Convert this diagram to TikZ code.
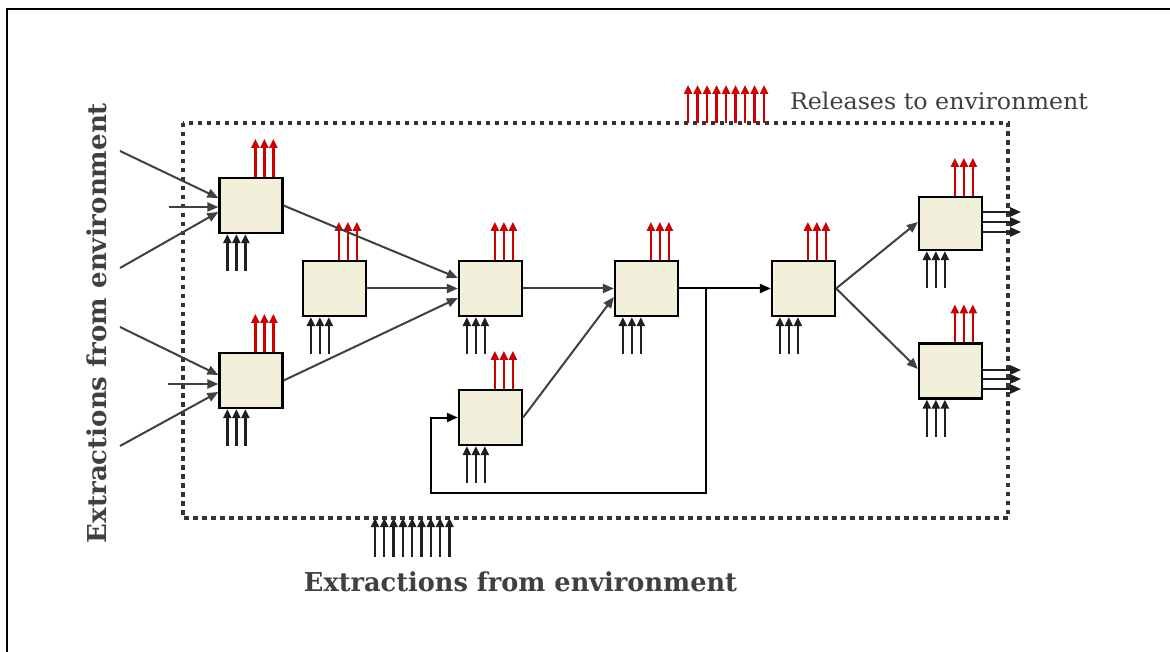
\documentclass[tikz,border=0pt]{standalone}
\usepackage{graphicx}
\usepackage{fontspec}
\setmainfont{DejaVu Serif}
\usetikzlibrary{arrows.meta,calc}
\definecolor{boxfill}{HTML}{F2F0DA}
\definecolor{txtgray}{HTML}{404040}
\definecolor{relred}{HTML}{CC0000}
\definecolor{conngray}{HTML}{404040}
\definecolor{dotgray}{HTML}{333333}
\tikzset{
  procbox/.style={draw=black, line width=2.2pt, fill=boxfill, minimum width=63pt, minimum height=55pt, inner sep=0pt},
  relarrow/.style={draw=relred, line width=2.3pt, -{Triangle[length=9pt,width=8pt]}},
  extarrow/.style={draw=black!88, line width=2.3pt, {Triangle[length=9pt,width=8pt]}-},
  conn/.style={draw=conngray, line width=2pt, -{Triangle[length=11pt,width=9pt]}},
  connblack/.style={draw=black, line width=2pt, -{Triangle[length=11pt,width=9pt]}},
  outarrow/.style={draw=black!88, line width=2.3pt, -{Triangle[length=11pt,width=9pt]}},
  envframe/.style={draw=dotgray, line width=4.5pt, dash pattern=on 4.5pt off 4.5pt},
  lbl/.style={text=txtgray, inner sep=0pt, font=\fontsize{23}{28}\selectfont},
  boldlbl/.style={text=txtgray, inner sep=0pt, font=\fontsize{26}{30}\selectfont\bfseries},
}
\newcommand\ioarrows[1]{%
  \foreach \dx in {37,46,55} \draw[relarrow] ($(#1.north west)+(\dx,0)$) -- ++(0,-38);
  \foreach \dx in {9,18,27} \draw[extarrow] ($(#1.south west)+(\dx,0)$) -- ++(0,37);
}
\begin{document}
\begin{tikzpicture}[x=1pt,y=-1pt]
\useasboundingbox (0,0) rectangle (1170,652);
\fill[white] (0,0) rectangle (1170,652);
% outer border (top and left)
\draw[line width=2.5pt] (7,652) -- (7,9) -- (1170,9);
% environment boundary
\draw[envframe] (183,123) rectangle (1008,518);
% boxes
\node[procbox] (b1) at (251,205.5) {};
\node[procbox] (b2) at (251,380.5) {};
\node[procbox] (b3) at (334.5,288.5) {};
\node[procbox] (b4) at (490.5,288.5) {};
\node[procbox] (b5) at (646.5,288.5) {};
\node[procbox] (b6) at (490.5,417.5) {};
\node[procbox] (b7) at (803.5,288.5) {};
\node[procbox, minimum height=53pt] (b8) at (950.5,223.5) {};
\node[procbox] (b9) at (950.5,371) {};
\foreach \b in {b1,b2,b3,b4,b5,b6,b7,b8,b9} {\ioarrows{\b}}
% left extractions
\coordinate (e1) at (120,151);
\coordinate (e2) at (169,207);
\coordinate (e3) at (120,268);
\coordinate (e4) at (120,327);
\coordinate (e5) at (168,384);
\coordinate (e6) at (120,446);
\draw[conn] (e1) -- ($(b1.west)+(0,-7.5)$);
\draw[conn] (e2) -- ($(b1.west)+(0,1.5)$);
\draw[conn] (e3) -- ($(b1.west)+(0,6.5)$);
\draw[conn] (e4) -- ($(b2.west)+(0,-5.5)$);
\draw[conn] (e5) -- ($(b2.west)+(0,3.5)$);
\draw[conn] (e6) -- ($(b2.west)+(0,11.5)$);
% internal flows
\draw[conn] (b1.east) -- ($(b4.west)+(0,-10.5)$);
\draw[conn] (b3.east) -- (b4.west);
\draw[conn] (b2.east) -- ($(b4.west)+(0,9.5)$);
\draw[conn] (b4.east) -- (b5.west);
\draw[conn] (b6.east) -- ($(b5.west)+(0,8.5)$);
\draw[connblack] (b5.east) -- (b7.west);
\coordinate (j) at (706,288.5);
\coordinate (lb) at (431,493);
\draw[connblack] (j) |- (lb) |- (b6.west);
\draw[conn] (b7.east) -- ($(b8.west)+(0,-1.5)$);
\draw[conn] (b7.east) -- ($(b9.west)+(0,-2)$);
% outputs
\foreach \d in {-11.5,-1.5,8.5} \draw[outarrow] ($(b8.east)+(-1,\d)$) -- ++(39,0);
\foreach \d in {-1,8,18} \draw[outarrow] ($(b9.east)+(-1,\d)$) -- ++(39,0);
% releases / extractions groups
\foreach \i in {0,...,8} \draw[relarrow] (688+\i*9.5,123) -- (688+\i*9.5,85);
\foreach \i in {0,...,8} \draw[extarrow] (375+\i*9.3,518) -- (375+\i*9.3,557);
% labels
\node[lbl] (reltxt) at (939,101) {\resizebox{298pt}{\height}{Releases to environment}};
\node[boldlbl] (exttxt) at (520.5,582) {\resizebox{433pt}{\height}{Extractions from environment}};
\node[boldlbl, rotate=90] (exttxtv) at (97,323) {\resizebox{440pt}{\height}{Extractions from environment}};
\end{tikzpicture}
\end{document}
